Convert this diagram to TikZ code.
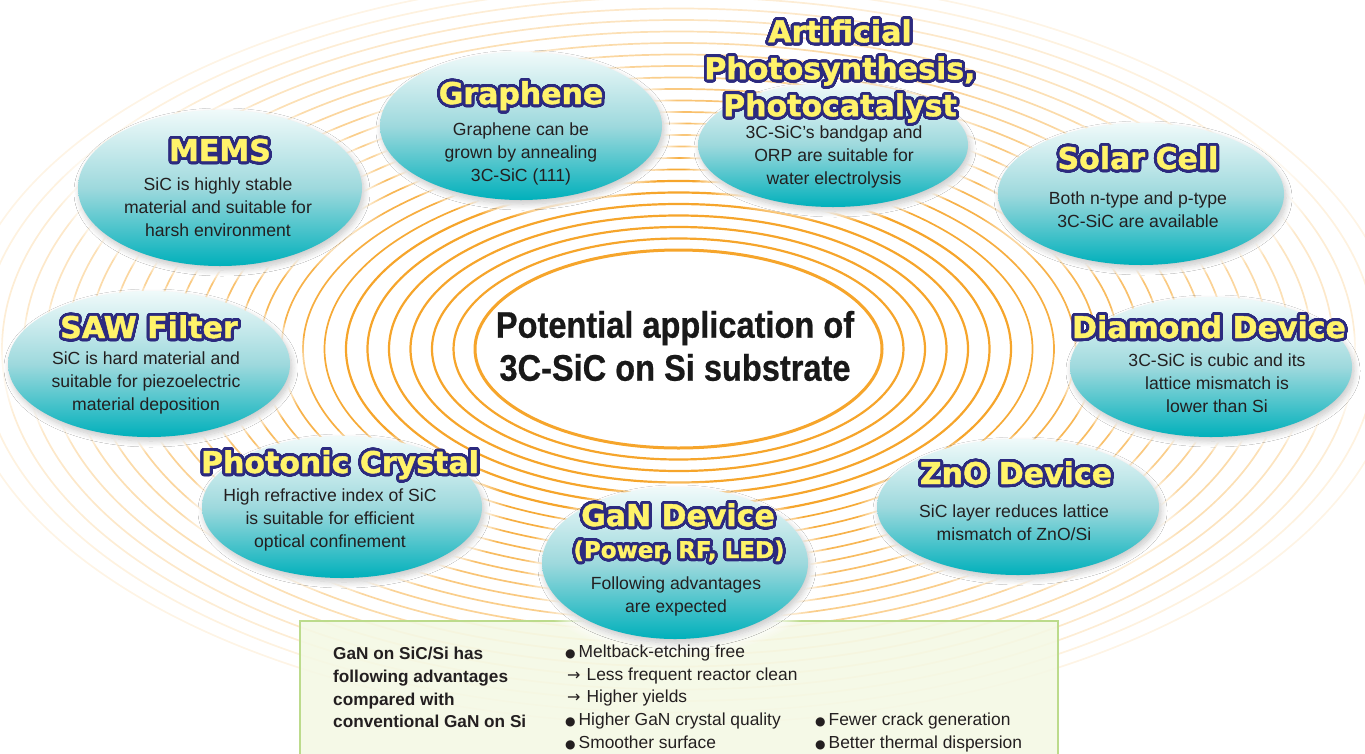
\documentclass[tikz,border=0pt]{standalone}
\usepackage{fontspec}
\usepackage{contour}
\usetikzlibrary{shapes.geometric,shadows,shadows.blur,fadings}
\setmainfont{Liberation Sans}
\newfontfamily\headfont{DejaVu Sans Bold}[FakeBold=1.4]
\newfontfamily\symfont{DejaVu Sans}
\newfontfamily\condfont{Liberation Sans Bold}[FakeStretch=0.88, FakeBold=0.6]

\definecolor{ringorange}{HTML}{F6A52B}
\definecolor{navyline}{HTML}{2C2A7F}
\definecolor{titleyel}{HTML}{FFF36A}
\definecolor{tealtop}{HTML}{F0FAFA}
\definecolor{tealmid}{HTML}{9ED9DD}
\definecolor{tealbot}{HTML}{00B0BB}
\definecolor{bodytext}{HTML}{231F20}
\definecolor{boxedge}{HTML}{BCDB8C}
\definecolor{boxfill}{HTML}{F4F8E4}

\contourlength{2.9pt}
\contournumber{48}
\newcommand{\headtxt}[1]{\contour{navyline}{#1}}
\newcommand{\dotmark}{{\symfont\fontsize{12}{12}\selectfont ●}\kern3pt}
\newcommand{\arrowmark}{{\symfont\fontsize{16}{16}\selectfont →}\kern6pt}

\tikzset{
  bubble/.style={ellipse, inner sep=0pt, top color=tealtop, bottom color=tealbot, middle color=tealmid,
    general shadow={shadow scale=1.16, path fading=circle with fuzzy edge 15 percent, fill=white},
    blur shadow={shadow xshift=2pt, shadow yshift=-4pt, shadow blur radius=6pt, shadow blur steps=8, shadow opacity=22}},
  headline/.style={font=\headfont\fontsize{30}{37}\selectfont, text=titleyel, inner sep=0pt, align=center},
  subhead/.style={font=\headfont\fontsize{23}{28}\selectfont, text=titleyel, inner sep=0pt, align=center},
  bodyline/.style={font=\fontsize{17.6}{23}\selectfont, text=bodytext, inner sep=0pt, align=center},
  boxhead/.style={font=\bfseries\fontsize{17.2}{22.7}\selectfont, text=bodytext, inner sep=0pt, align=left},
  boxitem/.style={font=\fontsize{17.4}{20}\selectfont, text=bodytext, inner sep=0pt, anchor=base west},
}

\begin{document}
\begin{tikzpicture}[x=1pt,y=-1pt]
\useasboundingbox (0,0) rectangle (1365,753);

% concentric rings around the core
\foreach \k in {24,23,...,1}{
  \pgfmathsetmacro\op{min(1,max(0.12,1.3-0.05*\k))}
  \pgfmathsetmacro\lw{\k<7 ? 2.2 : 1.7}
  \draw[ringorange, line width=\lw pt, opacity=\op]
    (678.5,349) ellipse [x radius={203.5+21.5*\k}, y radius={99+11.5*\k}];
}

% core ellipse and its caption
\node[ellipse, draw=ringorange, line width=3pt, fill=white, inner sep=0pt,
      minimum width=407pt, minimum height=198pt] (core) at (678.5,349) {};
\node[font=\condfont\fontsize{37}{43}\selectfont, text=black!90, align=center, inner sep=0pt]
  (coretext) at (675,346) {Potential application of\\3C-SiC on Si substrate};

% advantages panel
\node[draw=boxedge, line width=1.6pt, fill=boxfill, fill opacity=0.9, anchor=north west,
      minimum width=758pt, minimum height=150pt, inner sep=0pt] (adv) at (299,620) {};

% application bubbles
\node[bubble, minimum width=284pt, minimum height=156pt] (mems)     at (220,188) {};
\node[bubble, minimum width=282pt, minimum height=148pt] (graphene) at (521,126) {};
\node[bubble, minimum width=270pt, minimum height=124pt] (photo)    at (833,145) {};
\node[bubble, minimum width=286pt, minimum height=142pt] (solar)    at (1141,194) {};
\node[bubble, minimum width=282pt, minimum height=140pt] (diamond)  at (1211,367) {};
\node[bubble, minimum width=282pt, minimum height=146pt] (saw)      at (149,364) {};
\node[bubble, minimum width=280pt, minimum height=142pt] (photonic) at (342,507) {};
\node[bubble, minimum width=282pt, minimum height=136pt] (zno)      at (1018,507) {};
\node[bubble, minimum width=266pt, minimum height=152pt] (gan)      at (675,563) {};

% bubble titles
\node[headline, anchor=base] (memsT)     at (220,161)  {\headtxt{MEMS}};
\node[headline, anchor=base] (grapheneT) at (521,104)  {\headtxt{Graphene}};
\node[headline]              (photoT)    at (840,72.5) {\headtxt{Artificial}\\\headtxt{Photosynthesis,}\\\headtxt{Photocatalyst}};
\node[headline, anchor=base] (solarT)    at (1138,169) {\headtxt{Solar Cell}};
\node[headline, anchor=base] (diamondT)  at (1209,338) {\headtxt{Diamond Device}};
\node[headline, anchor=base] (sawT)      at (149,338)  {\headtxt{SAW Filter}};
\node[headline, anchor=base] (photonicT) at (340,473)  {\headtxt{Photonic Crystal}};
\node[headline, anchor=base] (znoT)      at (1016,484) {\headtxt{ZnO Device}};
\node[headline, anchor=base] (ganT)      at (678,526)  {\headtxt{GaN Device}};
\node[subhead,  anchor=base] (ganS)      at (679,558)  {\headtxt{(Power, RF, LED)}};

% bubble descriptions
\node[bodyline] (memsB)     at (218,207)  {SiC is highly stable\\material and suitable for\\harsh environment};
\node[bodyline] (grapheneB) at (521,154)  {Graphene can be\\grown by annealing\\3C-SiC (111)};
\node[bodyline] (photoB)    at (834,157)  {3C-SiC’s bandgap and\\ORP are suitable for\\water electrolysis};
\node[bodyline] (solarB)    at (1138,210) {Both n-type and p-type\\3C-SiC are available};
\node[bodyline] (diamondB)  at (1217,383) {3C-SiC is cubic and its\\lattice mismatch is\\lower than Si};
\node[bodyline] (sawB)      at (146,383)  {SiC is hard material and\\suitable for piezoelectric\\material deposition};
\node[bodyline] (photonicB) at (330,520)  {High refractive index of SiC\\is suitable for efficient\\optical confinement};
\node[bodyline] (znoB)      at (1014,523) {SiC layer reduces lattice\\mismatch of ZnO/Si};
\node[bodyline] (ganB)      at (676,596)  {Following advantages\\are expected};

% panel text
\node[boxhead, anchor=north west] (advhead) at (333,647)
  {GaN on SiC/Si has\\following advantages\\compared with\\conventional GaN on Si};
\node[boxitem] (itemA) at (565,657) {\dotmark Meltback-etching free};
\node[boxitem] (itemB) at (567,680) {\arrowmark Less frequent reactor clean};
\node[boxitem] (itemC) at (567,702) {\arrowmark Higher yields};
\node[boxitem] (itemD) at (565,725) {\dotmark Higher GaN crystal quality};
\node[boxitem] (itemE) at (565,748) {\dotmark Smoother surface};
\node[boxitem] (itemF) at (815,725) {\dotmark Fewer crack generation};
\node[boxitem] (itemG) at (815,748) {\dotmark Better thermal dispersion};
\end{tikzpicture}
\end{document}
